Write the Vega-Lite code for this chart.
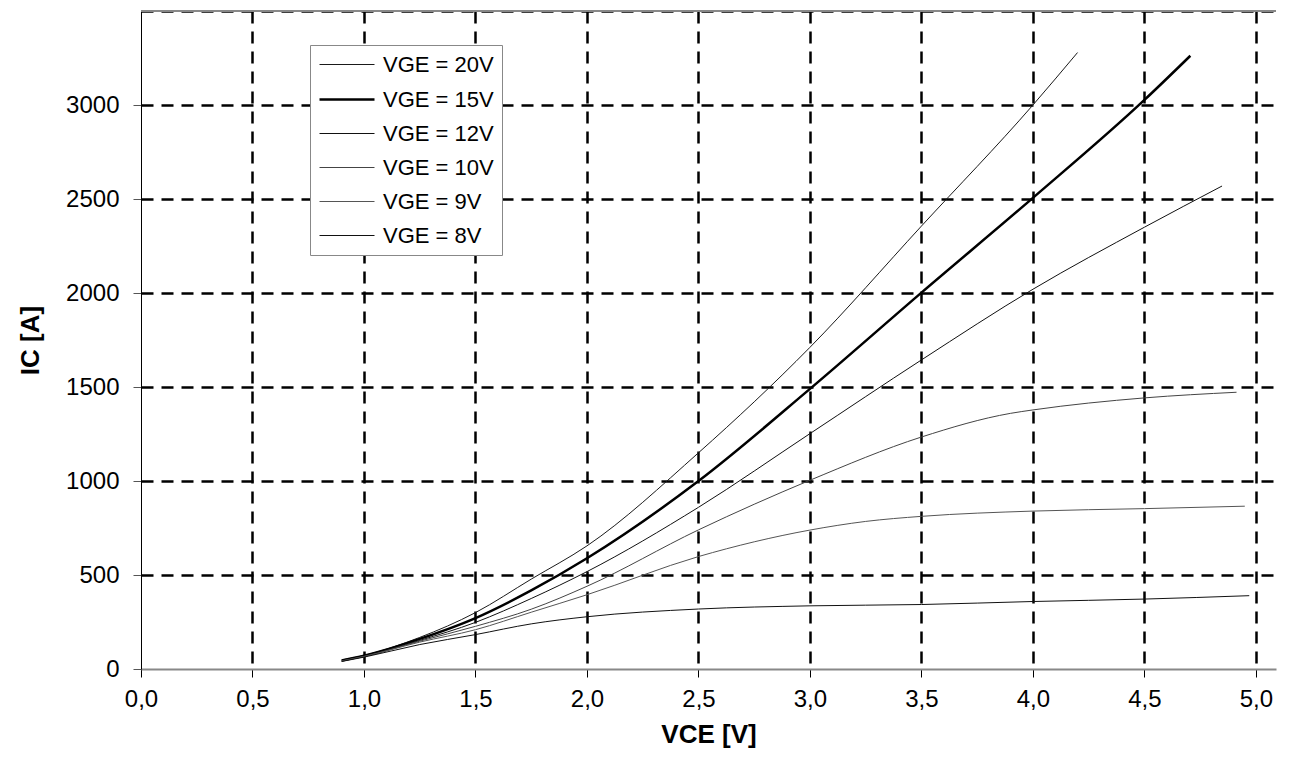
{
  "$schema": "https://vega.github.io/schema/vega-lite/v6.json",
  "width": 1135,
  "height": 658,
  "autosize": {"type": "none"},
  "padding": {"left": 141, "top": 11, "right": 19, "bottom": 104},
  "background": "white",
  "config": {
    "view": {"stroke": null},
    "font": "Liberation Sans",
    "axis": {
      "labelFont": "Liberation Sans",
      "labelFontSize": 24,
      "labelColor": "black",
      "labelFlush": false,
      "titleFont": "Liberation Sans",
      "titleFontSize": 26,
      "titleFontWeight": "bold",
      "titleColor": "black",
      "gridColor": "black",
      "gridDash": [12, 8],
      "gridWidth": 2.5,
      "tickSize": 8,
      "zindex": 1
    }
  },
  "layer": [
    {
      "data": {"values": [{"i": 3500}]},
      "mark": {"type": "rule", "color": "#888", "strokeWidth": 2},
      "encoding": {
        "y": {"field": "i", "type": "quantitative", "title": "IC [A]", "scale": {"domain": [0, 3500], "nice": false}}
      }
    },
    {
      "data": {
        "values": [
          {"v": 0.9, "i": 48, "s": "VGE = 20V"}, {"v": 1.0, "i": 72, "s": "VGE = 20V"}, {"v": 1.25, "i": 168, "s": "VGE = 20V"}, {"v": 1.5, "i": 300, "s": "VGE = 20V"}, {"v": 1.75, "i": 478, "s": "VGE = 20V"}, {"v": 2.0, "i": 655, "s": "VGE = 20V"}, {"v": 2.5, "i": 1150, "s": "VGE = 20V"}, {"v": 3.0, "i": 1711, "s": "VGE = 20V"}, {"v": 3.5, "i": 2356, "s": "VGE = 20V"}, {"v": 4.0, "i": 3000, "s": "VGE = 20V"}, {"v": 4.2, "i": 3279, "s": "VGE = 20V"},
          {"v": 0.9, "i": 45, "s": "VGE = 15V"}, {"v": 1.0, "i": 70, "s": "VGE = 15V"}, {"v": 1.25, "i": 160, "s": "VGE = 15V"}, {"v": 1.5, "i": 271, "s": "VGE = 15V"}, {"v": 1.75, "i": 418, "s": "VGE = 15V"}, {"v": 2.0, "i": 589, "s": "VGE = 15V"}, {"v": 2.5, "i": 1000, "s": "VGE = 15V"}, {"v": 3.0, "i": 1490, "s": "VGE = 15V"}, {"v": 3.5, "i": 2002, "s": "VGE = 15V"}, {"v": 4.0, "i": 2506, "s": "VGE = 15V"}, {"v": 4.5, "i": 3027, "s": "VGE = 15V"}, {"v": 4.706, "i": 3262, "s": "VGE = 15V"},
          {"v": 0.9, "i": 44, "s": "VGE = 12V"}, {"v": 1.0, "i": 68, "s": "VGE = 12V"}, {"v": 1.25, "i": 152, "s": "VGE = 12V"}, {"v": 1.5, "i": 248, "s": "VGE = 12V"}, {"v": 1.75, "i": 375, "s": "VGE = 12V"}, {"v": 2.0, "i": 518, "s": "VGE = 12V"}, {"v": 2.5, "i": 860, "s": "VGE = 12V"}, {"v": 3.0, "i": 1252, "s": "VGE = 12V"}, {"v": 3.5, "i": 1644, "s": "VGE = 12V"}, {"v": 4.0, "i": 2020, "s": "VGE = 12V"}, {"v": 4.5, "i": 2350, "s": "VGE = 12V"}, {"v": 4.848, "i": 2569, "s": "VGE = 12V"},
          {"v": 0.9, "i": 43, "s": "VGE = 10V"}, {"v": 1.0, "i": 67, "s": "VGE = 10V"}, {"v": 1.25, "i": 148, "s": "VGE = 10V"}, {"v": 1.5, "i": 227, "s": "VGE = 10V"}, {"v": 1.75, "i": 318, "s": "VGE = 10V"}, {"v": 2.0, "i": 440, "s": "VGE = 10V"}, {"v": 2.5, "i": 740, "s": "VGE = 10V"}, {"v": 3.0, "i": 1004, "s": "VGE = 10V"}, {"v": 3.5, "i": 1234, "s": "VGE = 10V"}, {"v": 3.9, "i": 1360, "s": "VGE = 10V"}, {"v": 4.0, "i": 1378, "s": "VGE = 10V"}, {"v": 4.5, "i": 1442, "s": "VGE = 10V"}, {"v": 4.913, "i": 1472, "s": "VGE = 10V"},
          {"v": 0.9, "i": 42, "s": "VGE = 9V"}, {"v": 1.0, "i": 66, "s": "VGE = 9V"}, {"v": 1.25, "i": 143, "s": "VGE = 9V"}, {"v": 1.5, "i": 209, "s": "VGE = 9V"}, {"v": 1.75, "i": 302, "s": "VGE = 9V"}, {"v": 2.0, "i": 395, "s": "VGE = 9V"}, {"v": 2.5, "i": 598, "s": "VGE = 9V"}, {"v": 3.0, "i": 739, "s": "VGE = 9V"}, {"v": 3.25, "i": 785, "s": "VGE = 9V"}, {"v": 3.5, "i": 812, "s": "VGE = 9V"}, {"v": 4.0, "i": 840, "s": "VGE = 9V"}, {"v": 4.5, "i": 853, "s": "VGE = 9V"}, {"v": 4.95, "i": 866, "s": "VGE = 9V"},
          {"v": 0.9, "i": 40, "s": "VGE = 8V"}, {"v": 1.0, "i": 63, "s": "VGE = 8V"}, {"v": 1.25, "i": 130, "s": "VGE = 8V"}, {"v": 1.5, "i": 183, "s": "VGE = 8V"}, {"v": 1.75, "i": 240, "s": "VGE = 8V"}, {"v": 2.0, "i": 278, "s": "VGE = 8V"}, {"v": 2.5, "i": 319, "s": "VGE = 8V"}, {"v": 3.0, "i": 336, "s": "VGE = 8V"}, {"v": 3.5, "i": 343, "s": "VGE = 8V"}, {"v": 4.0, "i": 359, "s": "VGE = 8V"}, {"v": 4.5, "i": 372, "s": "VGE = 8V"}, {"v": 4.97, "i": 390, "s": "VGE = 8V"}
        ]
      },
      "mark": {"type": "line", "interpolate": "monotone"},
      "encoding": {
        "x": {
          "field": "v", "type": "quantitative", "title": "VCE [V]",
          "scale": {"domain": [0, 5.09], "nice": false},
          "axis": {
            "values": [0, 0.5, 1, 1.5, 2, 2.5, 3, 3.5, 4, 4.5, 5],
            "labelExpr": "replace(format(datum.value, '.1f'), '.', ',')",
            "domainColor": "#888", "domainWidth": 2,
            "tickColor": "black", "tickWidth": 1,
            "labelPadding": 10, "titlePadding": 10,
            "gridOpacity": {"condition": {"test": "datum.value === 0", "value": 0}, "value": 1}
          }
        },
        "y": {
          "field": "i", "type": "quantitative", "title": "IC [A]",
          "scale": {"domain": [0, 3500], "nice": false},
          "axis": {
            "values": [0, 500, 1000, 1500, 2000, 2500, 3000, 3500],
            "format": "d",
            "labelExpr": "datum.value === 3500 ? '' : datum.label",
            "domainColor": "black", "domainWidth": 1,
            "tickColor": "#555", "tickWidth": 1,
            "tickOpacity": {"condition": {"test": "datum.value === 3500", "value": 0}, "value": 1},
            "labelPadding": 14, "titlePadding": 22,
            "gridOpacity": {"condition": {"test": "datum.value === 0", "value": 0}, "value": 1}
          }
        },
        "color": {
          "field": "s", "type": "nominal",
          "scale": {
            "domain": ["VGE = 20V", "VGE = 15V", "VGE = 12V", "VGE = 10V", "VGE = 9V", "VGE = 8V"],
            "range": ["#1a1a1a", "#000000", "#111111", "#444444", "#555555", "#111111"]
          },
          "legend": {
            "title": null, "orient": "none", "legendX": 169, "legendY": 34,
            "symbolType": "M-1,0H4", "symbolSize": 484, "symbolFillColor": "transparent",
            "labelFontSize": 22, "labelFont": "Liberation Sans", "labelColor": "black",
            "fillColor": "white", "strokeColor": "#888",
            "padding": 8, "rowPadding": 11, "labelOffset": 40
          }
        },
        "strokeWidth": {
          "field": "s", "type": "nominal",
          "scale": {
            "type": "ordinal",
            "domain": ["VGE = 20V", "VGE = 15V", "VGE = 12V", "VGE = 10V", "VGE = 9V", "VGE = 8V"],
            "range": [1, 2.5, 1, 1, 1, 1]
          },
          "legend": {
            "title": null, "orient": "none", "legendX": 169, "legendY": 34,
            "symbolType": "M-1,0H4", "symbolSize": 484, "symbolFillColor": "transparent",
            "labelFontSize": 22, "labelFont": "Liberation Sans", "labelColor": "black",
            "fillColor": "white", "strokeColor": "#888",
            "padding": 8, "rowPadding": 11, "labelOffset": 40
          }
        }
      }
    }
  ]
}
